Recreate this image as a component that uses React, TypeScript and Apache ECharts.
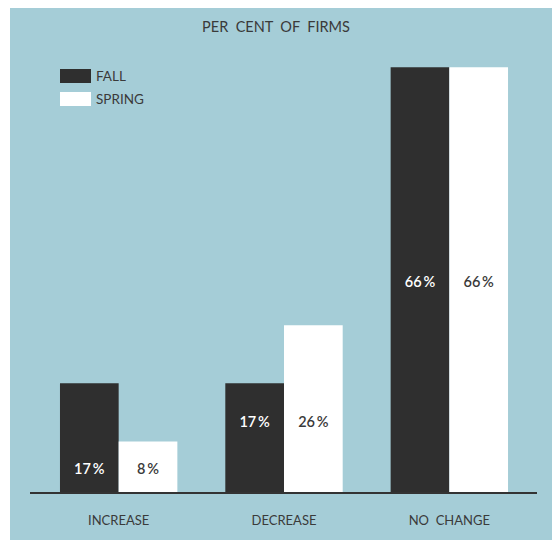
import React, { useEffect, useRef } from "react";
import * as echarts from "echarts";

const categories = ["INCREASE", "DECREASE", "NO\u00a0\u00a0CHANGE"];
const fallValues = [17, 17, 66];
const springValues = [8, 26, 66];
const seriesNames = ["FALL", "SPRING"];
const titleText = "PER\u00a0\u00a0CENT\u00a0\u00a0OF\u00a0\u00a0FIRMS";

// label distance from bar bottom, per category (labels sit at a common height per group)
const labelDistances = [17, 64, 204];

const FONT = "Lato, 'Open Sans', sans-serif";

export default function App() {
  const ref = useRef<HTMLDivElement>(null);
  useEffect(() => {
    if (!ref.current) return;
    const chart = echarts.init(ref.current, undefined, { renderer: "svg" });
    const mk = (vals: number[], textColor: string) =>
      vals.map((v, i) => ({
        value: v,
        label: {
          show: true,
          position: "insideBottom",
          distance: labelDistances[i],
          formatter: "{c}\u2009%",
          color: textColor,
          fontSize: 14.5,
          fontWeight: 600,
          fontFamily: FONT,
        },
      }));
    chart.setOption({
      animation: false,
      backgroundColor: "transparent",
      title: {
        text: titleText,
        left: "center",
        top: 14,
        textStyle: { color: "#3a3a3a", fontSize: 14.5, fontWeight: "normal", fontFamily: FONT },
      },
      legend: {
        data: seriesNames,
        orient: "vertical",
        left: 60,
        top: 69,
        padding: 0,
        itemWidth: 31,
        itemHeight: 14,
        itemGap: 9,
        icon: "rect",
        textStyle: { color: "#3a3a3a", fontSize: 13.5, fontFamily: FONT },
      },
      graphic: [
        {
          type: "line",
          shape: { x1: 30, y1: 493, x2: 537, y2: 493 },
          style: { stroke: "#333", lineWidth: 2 },
          z: 10,
        },
      ],
      grid: { left: 36, right: 20, top: 41.5, bottom: 47, containLabel: false },
      xAxis: {
        type: "category",
        data: categories,
        axisLine: { show: false },
        axisTick: { show: false },
        axisLabel: { color: "#3a3a3a", fontSize: 13, fontFamily: FONT, margin: 20 },
      },
      yAxis: {
        type: "value",
        min: 0,
        max: 70,
        show: false,
        splitLine: { show: false },
      },
      series: [
        {
          name: seriesNames[0],
          type: "bar",
          data: mk(fallValues, "#ffffff"),
          itemStyle: { color: "#2f2f2f" },
          barGap: "0%",
          barCategoryGap: "29%",
        },
        {
          name: seriesNames[1],
          type: "bar",
          data: mk(springValues, "#3a3a3a"),
          itemStyle: { color: "#ffffff" },
          barGap: "0%",
          barCategoryGap: "29%",
        },
      ],
    });
    return () => chart.dispose();
  }, []);
  return (
    <div style={{ position: "absolute", left: 0, top: 0, width: 552, height: 540, background: "#ffffff" }}>
      <div style={{ position: "absolute", left: 10, top: 8, width: 542, height: 532, background: "#a5cdd7" }} />
      <div ref={ref} style={{ position: "absolute", left: 0, top: 0, width: 552, height: 540 }} />
    </div>
  );
}
